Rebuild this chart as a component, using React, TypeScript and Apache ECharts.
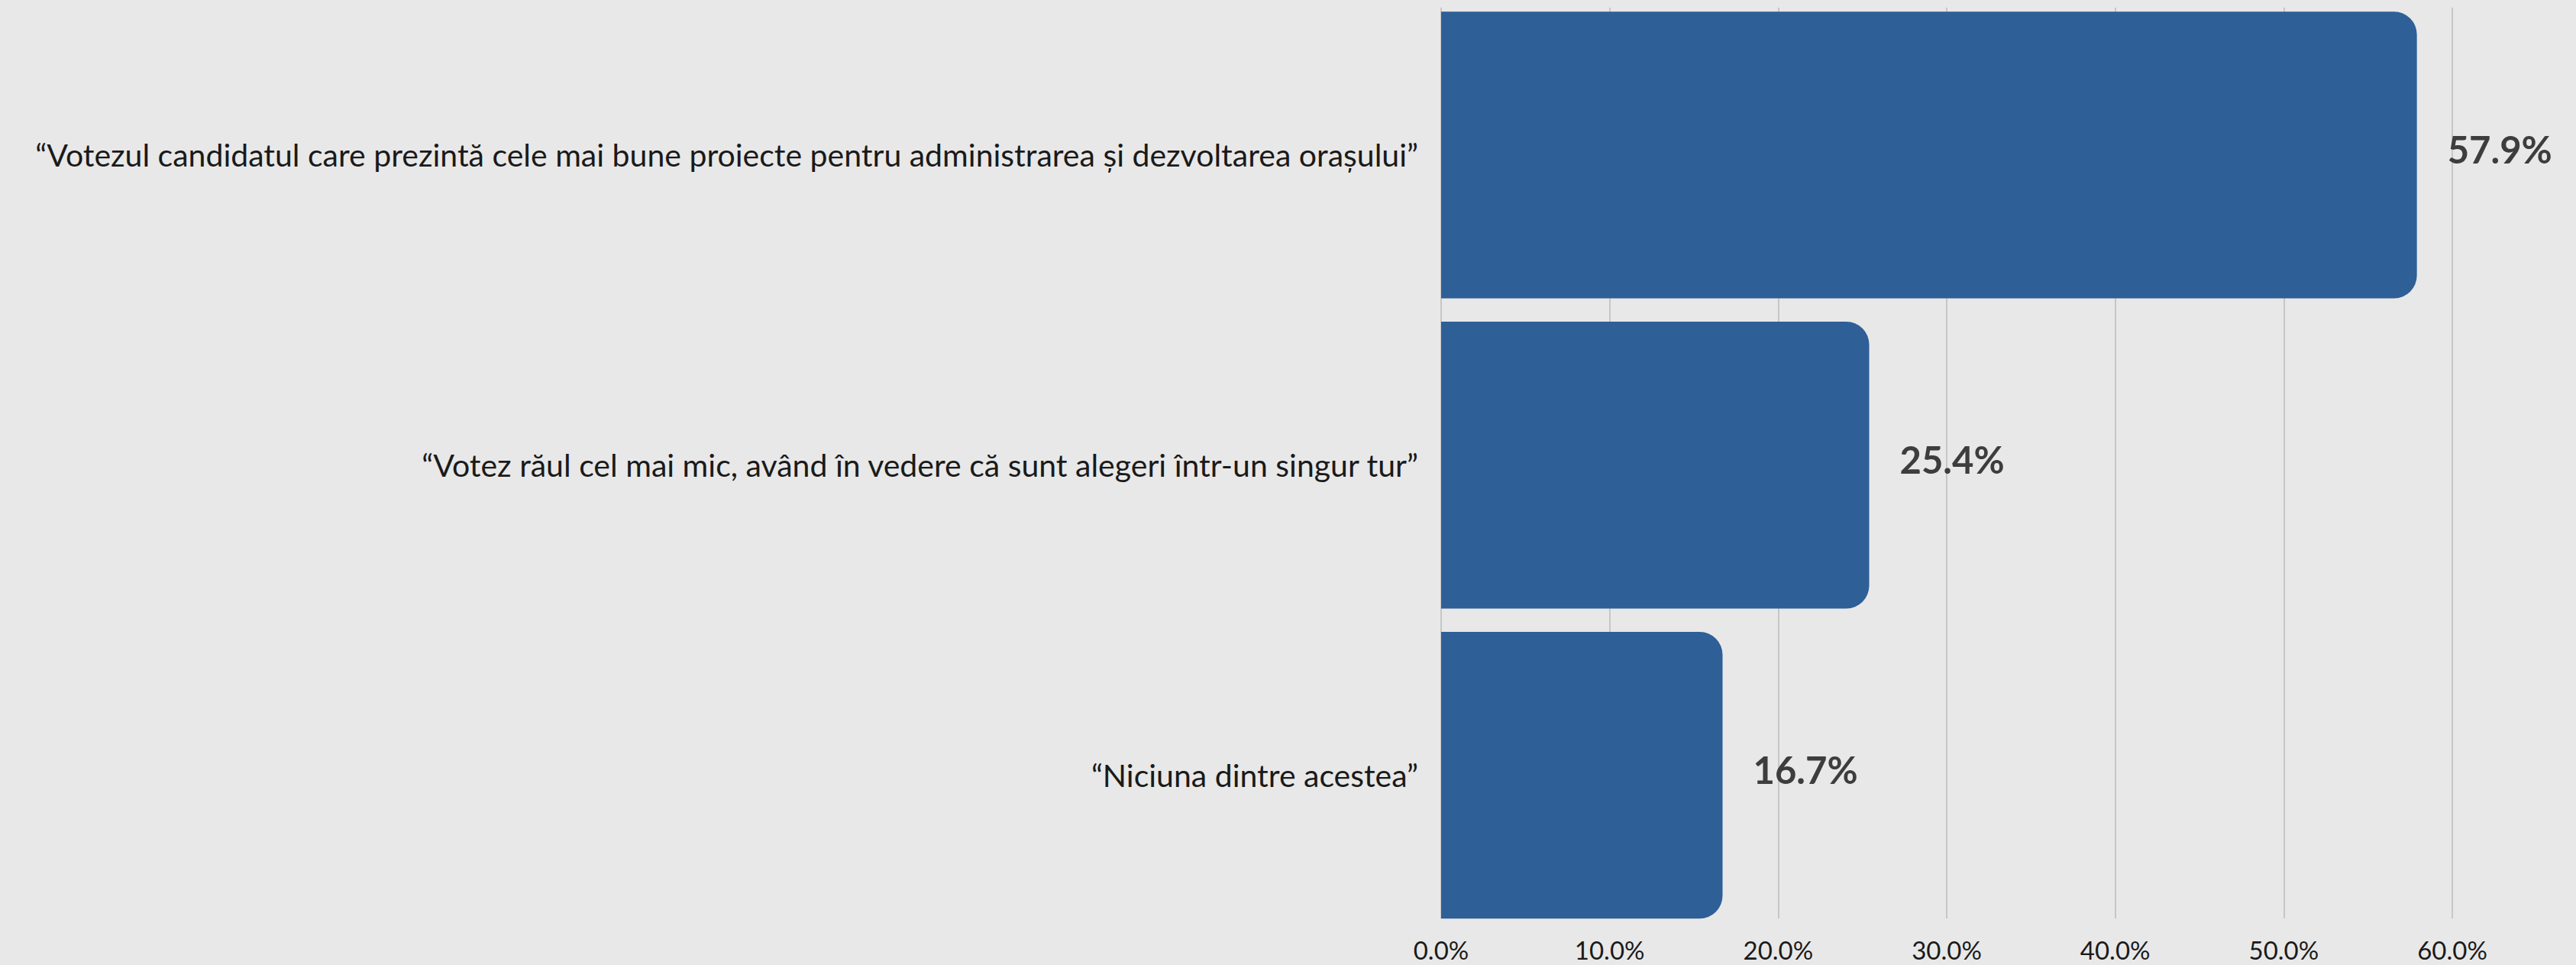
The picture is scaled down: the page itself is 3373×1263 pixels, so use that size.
import React, { useEffect, useRef } from "react";
import * as echarts from "echarts";

const categories = [
  "“Votezul candidatul care prezintă cele mai bune proiecte pentru administrarea și dezvoltarea orașului”",
  "“Votez răul cel mai mic, având în vedere că sunt alegeri într-un singur tur”",
  "“Niciuna dintre acestea”",
];
const values = [57.9, 25.4, 16.7];
const axisMin = 0;
const axisMax = 60;
const axisStep = 10;

export default function App() {
  const ref = useRef<HTMLDivElement>(null);
  useEffect(() => {
    document.body.style.margin = "0";
    const chart = echarts.init(ref.current!, undefined, { renderer: "svg" });
    chart.setOption({
      animation: false,
      backgroundColor: "#e8e8e8",
      grid: [
        { left: 1887, right: 162, top: -5.5, bottom: 45.5 },
        { left: 1887, right: 162, top: 10, bottom: 61 },
      ],
      xAxis: [
        { type: "value", gridIndex: 0, min: axisMin, max: axisMax, interval: axisStep, show: false },
        {
          type: "value",
          gridIndex: 1,
          min: axisMin,
          max: axisMax,
          interval: axisStep,
          axisLine: { show: false },
          axisTick: { show: false },
          splitLine: { show: true, lineStyle: { color: "#bcbcbc", width: 1.5 } },
          axisLabel: {
            formatter: (v: number) => v.toFixed(1) + "%",
            fontFamily: "Lato",
            fontSize: 33,
            color: "#1a1a1a",
            margin: 24,
          },
        },
      ],
      yAxis: [
        {
          type: "category",
          gridIndex: 0,
          data: categories,
          inverse: true,
          axisLine: { show: false },
          axisTick: { show: false },
          axisLabel: {
            fontFamily: "Lato",
            fontSize: 41,
            color: "#1a1a1a",
            margin: 30,
          },
        },
        { type: "value", gridIndex: 1, show: false },
      ],
      series: [
        {
          type: "bar",
          xAxisIndex: 0,
          yAxisIndex: 0,
          data: values,
          barCategoryGap: "7.5%",
          itemStyle: { color: "#2e5f97", borderRadius: [0, 30, 30, 0] },
          label: {
            show: true,
            position: "right",
            distance: 40,
            offset: [0, -8],
            formatter: (p: any) => p.value.toFixed(1) + "%",
            fontFamily: "Lato",
            fontWeight: "bold",
            fontSize: 49,
            color: "#3d3d3d",
          },
        },
      ],
    });
    return () => chart.dispose();
  }, []);
  return (
    <div
      ref={ref}
      style={{ position: "fixed", left: 0, top: 0, width: 3373, height: 1263 }}
    />
  );
}
